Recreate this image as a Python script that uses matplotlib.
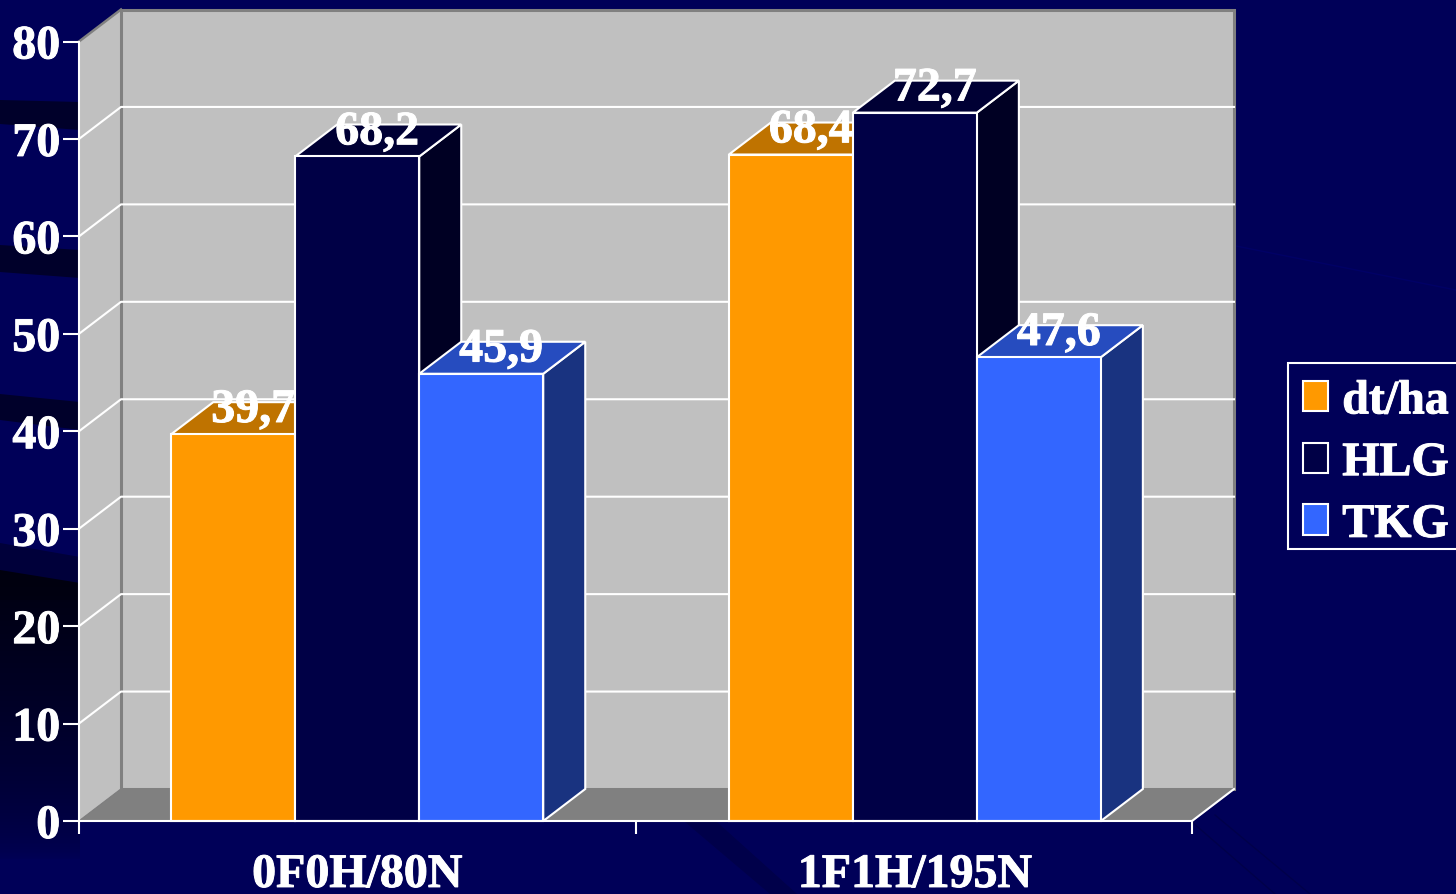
import numpy as np
import matplotlib
matplotlib.use('Agg')
import matplotlib.pyplot as plt
import matplotlib.patheffects as pe
from matplotlib.patches import Patch, Polygon, Rectangle
from matplotlib.legend_handler import HandlerPatch

#chart values
categories = ['0F0H/80N', '1F1H/195N']
series_names = ['dt/ha', 'HLG', 'TKG']
values_dtha = [39.7, 68.4]
values_hlg = [68.2, 72.7]
values_tkg = [45.9, 47.6]
value_labels = [['39,7', '68,4'], ['68,2', '72,7'], ['45,9', '47,6']]
yticks = [0, 10, 20, 30, 40, 50, 60, 70, 80]

#front, top and side colours of each series
front_colors = ['#FF9900', '#000046', '#3366FF']
top_colors = ['#BF7300', '#000034', '#264CBF']
side_colors = ['#7F4C00', '#000023', '#193380']
navy = '#000058'
streak = '#00002A'

plt.rcParams['font.family'] = ['Liberation Serif', 'DejaVu Serif']
plt.rcParams['font.weight'] = 'bold'
#the original text is a little heavier than the plain bold face
heavy = [pe.withStroke(linewidth=0.7, foreground='white')]

W, H = 1456, 894
fig = plt.figure(figsize=(W/100, H/100), dpi=100, facecolor=navy)

#background with the dark streaks of the slide
bg = fig.add_axes([0, 0, 1, 1], zorder=0)
bg.set_xlim(0, W)
bg.set_ylim(H, 0)
bg.axis('off')
bg.add_patch(Polygon([(0, 100), (80, 102), (80, 130), (0, 124)], fc=streak, lw=0))
bg.add_patch(Polygon([(0, 245), (80, 250), (80, 278), (0, 272)], fc=streak, lw=0))
bg.add_patch(Polygon([(0, 394), (80, 402), (80, 430), (0, 420)], fc=streak, lw=0))
bg.add_patch(Polygon([(0, 543), (80, 557), (80, 600), (0, 600)], fc='#00003A', lw=0))
#dark area on the lower left fades back to navy
fade = np.zeros((256, 1, 4))
fade[:, 0, 2] = 0.05
fade[:, 0, 3] = 0.95*np.linspace(1, 0, 256)**0.6
im = bg.imshow(fade, extent=(0, 80, 860, 570), aspect='auto', zorder=1)
clip = Polygon([(0, 570), (80, 583), (80, 860), (0, 860)], transform=bg.transData, fc='none', lw=0)
bg.add_patch(clip)
im.set_clip_path(clip)
bg.set_xlim(0, W)
bg.set_ylim(H, 0)
#streaks under and right of the plot
bg.add_patch(Polygon([(685, 822), (717, 822), (797, 894), (770, 894)], fc='#00004A', lw=0))
bg.plot([1192, 1275], [822, 894], color='#00004A', lw=1)
bg.plot([1215, 1310], [815, 894], color='#00004A', lw=1)
bg.plot([1236, 1456], [246, 290], color='#000066', lw=1)
#legend box runs off the right edge in the original
bg.add_patch(Rectangle((1288, 363), 200, 186, fc=navy, ec='white', lw=1.5, zorder=3))

#axes = front plane of the chart
ax = fig.add_axes([79/W, 1-821/H, (1192-79)/W, (821-41.5)/H], zorder=1)
ax.set_xlim(0, 2)
ax.set_ylim(0, 80)
ax.patch.set_visible(False)

#depth of the fake 3d, in data units
dx = 42/556.5
dy = 32/9.744
edge = '#808080'
ymax = yticks[-1]

#walls and floor
ax.add_patch(Polygon([(0, 0), (dx, dy), (dx, ymax+dy), (0, ymax)], fc='#C0C0C0', lw=0, clip_on=False, zorder=1))
ax.add_patch(Polygon([(dx, dy), (2+dx, dy), (2+dx, ymax+dy), (dx, ymax+dy)], fc='#C0C0C0', ec=edge, lw=2.2, clip_on=False, zorder=1))
ax.plot([0, dx], [ymax, ymax+dy], color=edge, lw=1.8, clip_on=False, zorder=1.5)
ax.add_patch(Polygon([(0, 0), (2, 0), (2+dx, dy), (dx, dy)], fc='#808080', ec=edge, lw=1, clip_on=False, zorder=1.5))
ax.plot([2, 2+dx], [0, dy], color='white', lw=1.5, clip_on=False, zorder=1.6)

#gridlines run along the side wall and the back wall
for t in yticks[1:-1]:
    ax.plot([0, dx, 2+dx], [t, t+dy, t+dy], color='white', lw=1.5, clip_on=False, zorder=2)

#bars
width = 124/556.5
group_centers = [0.5, 1.502]
all_values = [values_dtha, values_hlg, values_tkg]
z = 3
for c in range(len(categories)):
    for s in range(len(series_names)):
        v = all_values[s][c]
        x0 = group_centers[c] + (s-1.5)*width
        x1 = x0 + width
        ax.add_patch(Polygon([(x1, 0), (x1+dx, dy), (x1+dx, v+dy), (x1, v)], fc=side_colors[s], ec='white', lw=1.5, clip_on=False, zorder=z))
        ax.add_patch(Polygon([(x0, v), (x1, v), (x1+dx, v+dy), (x0+dx, v+dy)], fc=top_colors[s], ec='white', lw=1.5, clip_on=False, zorder=z))
        ax.bar(x0, v, width=width, align='edge', color=front_colors[s], edgecolor='white', lw=1.5, clip_on=False, zorder=z+0.5)
        z += 1

#value labels on top of the bars
for c in range(len(categories)):
    for s in range(len(series_names)):
        x = group_centers[c] + (s-1)*width + dx/2 - 0.002
        ax.text(x, all_values[s][c]+1.25, value_labels[s][c], ha='center', va='baseline', color='white',
                fontsize=34.5, fontweight='bold', zorder=30, clip_on=False, path_effects=heavy)

#axis lines and ticks
for side in ['top', 'right']:
    ax.spines[side].set_visible(False)
for side in ['left', 'bottom']:
    ax.spines[side].set_color('white')
    ax.spines[side].set_linewidth(1.5)
    ax.spines[side].set_zorder(20)
ax.set_yticks(yticks)
ax.set_yticklabels([str(t) for t in yticks])
ax.set_xticks([0, 1, 2])
ax.set_xticklabels([])
ax.set_xticks(group_centers, categories, minor=True)
ax.tick_params(axis='y', length=11.5, width=1.5, color='white', labelcolor='white', labelsize=34.5, pad=2)
ax.tick_params(axis='x', which='major', length=9.5, width=1.5, color='white')
ax.tick_params(axis='x', which='minor', length=0, labelcolor='white', labelsize=34.5, pad=23)
for lab in ax.get_yticklabels() + ax.get_xticklabels(minor=True):
    lab.set_path_effects(heavy)

#legend entries, the box itself is the rectangle above
handles = [Patch(fc=front_colors[i], ec='white', lw=1.5, label=series_names[i]) for i in range(3)]
leg = fig.legend(handles=handles, loc='upper left', bbox_to_anchor=(1290/W, 1-366/H), bbox_transform=fig.transFigure,
                 fontsize=34.5, frameon=False, handlelength=0.52, handleheight=0.62, handletextpad=0.29,
                 labelspacing=0.37, borderpad=0.28, borderaxespad=0, labelcolor='white',
                 handler_map={Patch: HandlerPatch(ypad=0.02)})
leg.set_zorder(5)
for t in leg.get_texts():
    t.set_path_effects(heavy)

fig.savefig('out.png', dpi=100, facecolor=fig.get_facecolor())
